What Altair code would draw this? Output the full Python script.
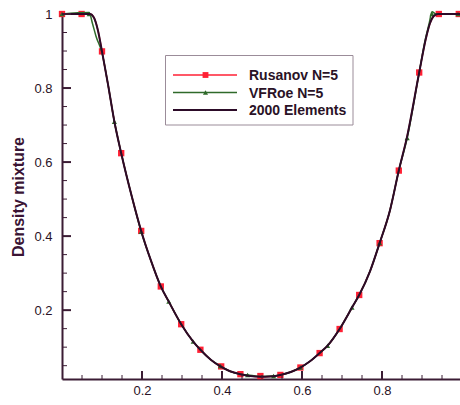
import altair as alt
import pandas as pd

# Rusanov N=5 solution nodes
rus_x = [0.0, 0.049, 0.1, 0.148, 0.198, 0.247, 0.298, 0.346, 0.398, 0.446, 0.496,
         0.546, 0.596, 0.644, 0.694, 0.743, 0.794, 0.842, 0.893, 0.942, 0.992]
rus_y = [1.0, 1.0, 0.899, 0.624, 0.414, 0.264, 0.162, 0.093, 0.048, 0.027, 0.022,
         0.025, 0.045, 0.084, 0.149, 0.241, 0.381, 0.577, 0.842, 1.0, 1.0]

# VFRoe N=5 solution nodes
vfr_x = [0.0, 0.068, 0.131, 0.198, 0.267, 0.328, 0.396, 0.464, 0.529, 0.596,
         0.664, 0.725, 0.794, 0.863, 0.925, 0.99]
vfr_y = [1.0, 1.0, 0.709, 0.412, 0.223, 0.115, 0.049, 0.025, 0.022, 0.045,
         0.104, 0.207, 0.381, 0.665, 1.0, 1.0]

# VFRoe N=5 profile between nodes (sharper shoulders than the reference)
vfr_line_x = [0.0, 0.068, 0.076, 0.085, 0.1, 0.115, 0.131, 0.148, 0.175, 0.198,
              0.222, 0.247, 0.267, 0.298, 0.328, 0.346, 0.372, 0.396, 0.42,
              0.446, 0.464, 0.496, 0.529, 0.546, 0.572, 0.596, 0.62, 0.644,
              0.664, 0.694, 0.725, 0.743, 0.77, 0.794, 0.82, 0.842, 0.863,
              0.893, 0.908, 0.918, 0.925, 0.935, 0.99]
vfr_line_y = [1.0, 1.004, 0.975, 0.94, 0.895, 0.81, 0.709, 0.624, 0.505, 0.412,
              0.335, 0.264, 0.223, 0.162, 0.115, 0.093, 0.066, 0.049, 0.035,
              0.027, 0.025, 0.021, 0.022, 0.025, 0.033, 0.045, 0.062, 0.084,
              0.104, 0.149, 0.207, 0.241, 0.305, 0.381, 0.47, 0.577, 0.665,
              0.842, 0.93, 0.975, 1.006, 1.0, 1.0]

# Reference solution on 2000 elements
ref_x = [0.0, 0.04, 0.07, 0.08, 0.09, 0.1, 0.115, 0.131, 0.148, 0.175, 0.198,
         0.222, 0.247, 0.267, 0.298, 0.328, 0.346, 0.372, 0.396, 0.42, 0.446,
         0.47, 0.496, 0.52, 0.546, 0.572, 0.596, 0.62, 0.644, 0.664, 0.694,
         0.725, 0.743, 0.77, 0.794, 0.82, 0.842, 0.863, 0.893, 0.91, 0.92,
         0.93, 0.94, 0.97, 0.995]
ref_y = [1.0, 1.0, 1.0, 0.99, 0.955, 0.899, 0.81, 0.709, 0.624, 0.505, 0.414,
         0.335, 0.264, 0.223, 0.162, 0.115, 0.093, 0.066, 0.048, 0.035, 0.027,
         0.022, 0.02, 0.021, 0.025, 0.033, 0.045, 0.062, 0.084, 0.104, 0.149,
         0.207, 0.241, 0.305, 0.381, 0.47, 0.577, 0.67, 0.842, 0.935, 0.975,
         0.995, 1.0, 1.0, 1.0]

legend_labels = ["Rusanov N=5", "VFRoe N=5", "2000 Elements"]

x_major = [0.2, 0.4, 0.6, 0.8]
x_minor = [0.05, 0.1, 0.15, 0.25, 0.3, 0.35, 0.45, 0.5, 0.55, 0.65, 0.7, 0.75,
           0.85, 0.9, 0.95]
y_major = [0.2, 0.4, 0.6, 0.8, 1.0]
y_minor = [0.05, 0.1, 0.15, 0.25, 0.3, 0.35, 0.45, 0.5, 0.55, 0.65, 0.7, 0.75,
           0.85, 0.9, 0.95]

W, H = 398, 365
AXIS = "#3b1c34"
TEXT = "#2a1226"
RED = "#ff2034"
GREEN = "#2f6a2a"
DARK = "#2c0b28"
FONT = "Liberation Sans"

xs = alt.Scale(domain=[0, 0.995], nice=False, zero=False)
ys = alt.Scale(domain=[0.014, 1.0], nice=False, zero=False)

x_axis = alt.Axis(values=x_major, format=".1f", ticks=False, grid=False,
                  domainColor=AXIS, domainWidth=2, labelFontSize=13,
                  labelColor=TEXT, labelFont=FONT, labelPadding=5, title=None)
y_axis = alt.Axis(values=y_major, format=".1~f", ticks=False, grid=False,
                  domainColor=AXIS, domainWidth=2, labelFontSize=13,
                  labelColor=TEXT, labelFont=FONT, labelPadding=10,
                  title="Density mixture", titleFont=FONT, titleFontSize=16,
                  titleFontWeight="bold", titleColor="#3a1434", titlePadding=7)

rus = pd.DataFrame({"x": rus_x, "y": rus_y})
vfr = pd.DataFrame({"x": vfr_x, "y": vfr_y})
vfr_l = pd.DataFrame({"x": vfr_line_x, "y": vfr_line_y})
ref = pd.DataFrame({"x": ref_x, "y": ref_y})

X = alt.X("x:Q", scale=xs, axis=x_axis)
Y = alt.Y("y:Q", scale=ys, axis=y_axis)
Xp = alt.X("x:Q", scale=xs)
Yp = alt.Y("y:Q", scale=ys)

# the Rusanov profile runs along the converged curve between its nodes
rus_line = alt.Chart(ref).mark_line(color=RED, strokeWidth=1.5,
                                    interpolate="monotone").encode(x=X, y=Y)
rus_pts = alt.Chart(rus).mark_point(shape="square", filled=True, size=40,
                                    color=RED, opacity=1).encode(x=Xp, y=Yp)
vfr_line = alt.Chart(vfr_l).mark_line(color=GREEN, strokeWidth=1.5,
                                      interpolate="monotone").encode(x=Xp, y=Yp)
vfr_pts = alt.Chart(vfr).mark_point(shape="triangle-up", filled=True, size=26,
                                    color=GREEN, opacity=1).encode(x=Xp, y=Yp)
ref_line = alt.Chart(ref).mark_line(color=DARK, strokeWidth=2,
                                    interpolate="monotone").encode(x=Xp, y=Yp)

# inward tick marks along both axes
def xticks(vals, length, width):
    return alt.Chart(pd.DataFrame({"x": vals})).mark_rule(
        color=AXIS, strokeWidth=width).encode(
        x=Xp, y=alt.value(H), y2=alt.value(H - length))

def yticks(vals, length, width):
    return alt.Chart(pd.DataFrame({"y": vals})).mark_rule(
        color=AXIS, strokeWidth=width).encode(
        y=Yp, x=alt.value(0), x2=alt.value(length))

ticks = [xticks(x_major, 8, 2), xticks(x_minor, 4, 1),
         yticks(y_major, 9, 2), yticks(y_minor, 5, 1)]

# legend box drawn in pixel space
box_df = pd.DataFrame({"label": ["box"]})
legend = [alt.Chart(box_df).mark_rect(fill="white", stroke="#9b8c99",
                                      strokeWidth=1).encode(
    x=alt.value(103.5), x2=alt.value(291), y=alt.value(41.5), y2=alt.value(111))]
colors = [RED, GREEN, DARK]
for i, lab in enumerate(legend_labels):
    yy = 61 + 17.5 * i
    d = pd.DataFrame({"label": [lab]})
    legend.append(alt.Chart(d).mark_rule(color=colors[i],
                                         strokeWidth=2 if i == 2 else 1.5).encode(
        x=alt.value(111), x2=alt.value(175), y=alt.value(yy)))
    if i == 0:
        legend.append(alt.Chart(d).mark_point(shape="square", filled=True, size=34,
                                              color=RED, opacity=1).encode(
            x=alt.value(143.5), y=alt.value(yy)))
    elif i == 1:
        legend.append(alt.Chart(d).mark_point(shape="triangle-up", filled=True,
                                              size=26, color=GREEN, opacity=1).encode(
            x=alt.value(143.5), y=alt.value(yy)))
    legend.append(alt.Chart(d).mark_text(align="left", baseline="middle",
                                         fontSize=14, fontWeight="bold",
                                         font=FONT, color=TEXT).encode(
        x=alt.value(187), y=alt.value(yy + 1), text="label:N"))

chart = alt.layer(
    rus_line, rus_pts, vfr_line, vfr_pts, ref_line, *ticks, *legend
).properties(
    width=W, height=H,
    padding={"left": 62, "top": 14, "right": 0, "bottom": 26},
    autosize=alt.AutoSizeParams(type="none"),
    background="white",
).configure_view(stroke=None)

chart.save("out.html", embed_options={"renderer": "svg", "actions": False})
